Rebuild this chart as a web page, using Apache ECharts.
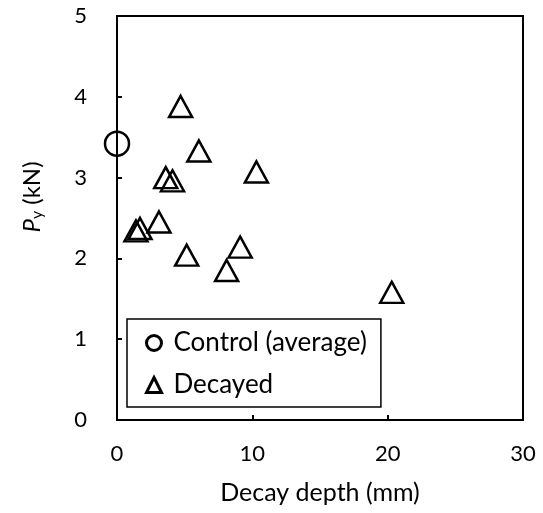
<!DOCTYPE html>
<html><head><meta charset="utf-8">
<script src="https://cdn.jsdelivr.net/npm/echarts@6/dist/echarts.min.js"></script>
<style>html,body{margin:0;padding:0;background:#fff}#c{width:543px;height:513px}</style>
</head><body><div id="c"></div>
<script>
const controlX = [0];
const controlY = [3.42];
const decayedX = [4.7, 6.05, 10.3, 3.6, 4.1, 3.1, 1.7, 1.4, 5.15, 9.1, 8.1, 20.3];
const decayedY = [3.88, 3.33, 3.07, 3.0, 2.96, 2.45, 2.37, 2.34, 2.04, 2.14, 1.85, 1.58];
const seriesNames = ['Control (average)', 'Decayed'];
const xTicks = [0, 10, 20, 30];
const yTicks = [0, 1, 2, 3, 4, 5];

const FONT = 'Lato';
const chart = echarts.init(document.getElementById('c'), null, {renderer: 'canvas'});
const pts = (xs, ys) => xs.map((x, i) => [x, ys[i]]);
chart.setOption({
  animation: false,
  backgroundColor: '#fff',
  textStyle: {fontFamily: FONT},
  grid: {left: 117, right: 20, top: 16, bottom: 93, show: true, borderColor: '#000', borderWidth: 2},
  xAxis: {
    type: 'value', min: xTicks[0], max: xTicks[xTicks.length - 1], interval: 10,
    name: 'Decay depth (mm)', nameLocation: 'middle', nameGap: 60,
    nameTextStyle: {fontFamily: FONT, fontSize: 25, color: '#000'},
    axisLine: {lineStyle: {color: '#000', width: 2}},
    axisTick: {inside: true, length: 5, lineStyle: {color: '#000', width: 2}},
    axisLabel: {fontFamily: FONT, fontSize: 22, color: '#000', margin: 23},
    splitLine: {show: false}
  },
  yAxis: {
    type: 'value', min: yTicks[0], max: yTicks[yTicks.length - 1], interval: 1,
    name: '{i|P}{s|y}{n| (kN)}', nameLocation: 'middle', nameGap: 72, nameRotate: 90,
    nameTextStyle: {fontFamily: FONT, fontSize: 24, color: '#000', padding: [0, 0, 0, 42],
      rich: {i: {fontStyle: 'italic', fontSize: 24, fontFamily: FONT, color: '#000'},
             s: {fontSize: 16, fontFamily: FONT, color: '#000', verticalAlign: 'bottom', padding: [10, 0, 0, 0]},
             n: {fontSize: 24, fontFamily: FONT, color: '#000'}}},
    axisLine: {lineStyle: {color: '#000', width: 2}},
    axisTick: {inside: true, length: 5, lineStyle: {color: '#000', width: 2}},
    axisLabel: {fontFamily: FONT, fontSize: 22, color: '#000', margin: 30},
    splitLine: {show: false}
  },
  legend: {
    orient: 'vertical', left: 127, top: 319,
    backgroundColor: '#fff', borderColor: '#000', borderWidth: 1.5,
    padding: [9, 14, 7, 18], itemGap: 12, itemWidth: 15, itemHeight: 15,
    textStyle: {fontFamily: FONT, fontSize: 26, color: '#000', lineHeight: 30, padding: [0, 0, 0, 7]},
    data: [
      {name: seriesNames[0], icon: 'circle', itemStyle: {color: 'rgba(0,0,0,0)', borderColor: '#000', borderWidth: 3}},
      {name: seriesNames[1], icon: 'triangle', itemStyle: {color: 'rgba(0,0,0,0)', borderColor: '#000', borderWidth: 3}}
    ]
  },
  series: [
    {name: seriesNames[0], type: 'scatter', symbol: 'circle', symbolSize: 24, clip: false,
     itemStyle: {color: 'rgba(0,0,0,0)', borderColor: '#000', borderWidth: 2.5, opacity: 1},
     data: pts(controlX, controlY)},
    {name: seriesNames[1], type: 'scatter', symbol: 'triangle', symbolSize: [23, 21], clip: false,
     itemStyle: {color: 'rgba(0,0,0,0)', borderColor: '#000', borderWidth: 2.5, opacity: 1},
     data: pts(decayedX, decayedY)}
  ]
});
</script></body></html>
